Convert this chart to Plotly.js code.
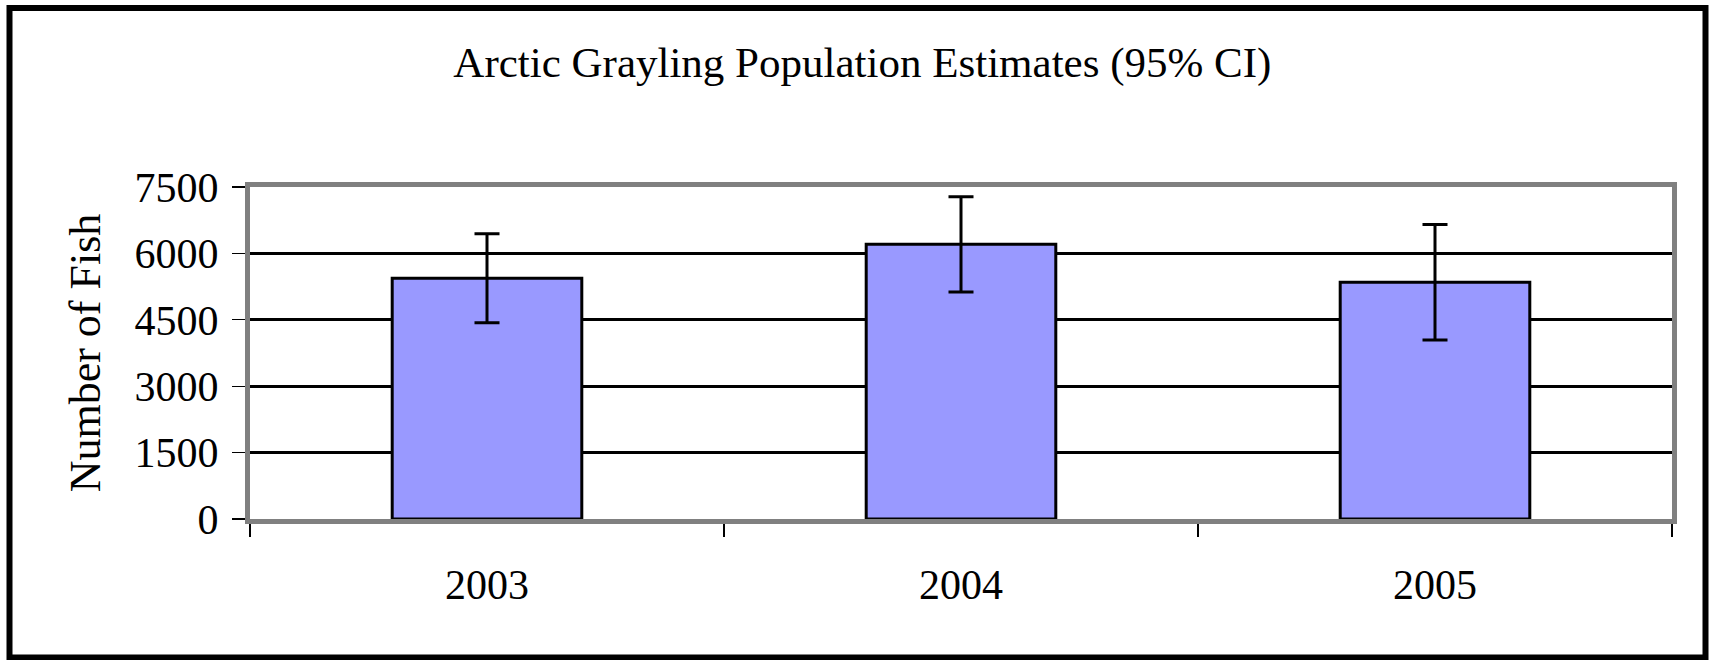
<!DOCTYPE html>
<html>
<head>
<meta charset="utf-8">
<script src="https://cdn.plot.ly/plotly-3.0.1.min.js"></script>
<style>
  html, body { margin: 0; padding: 0; background: #ffffff; }
  #chart { width: 1711px; height: 660px; }
</style>
</head>
<body>
<div id="chart"></div>
<script>
// ---- data ----
const years = ["2003", "2004", "2005"];
const estimates = [5440, 6205, 5350];
const ci95 = [1005, 1075, 1305];
const yTicks = [0, 1500, 3000, 4500, 6000, 7500];

// ---- layout geometry ----
const W = 1711, H = 660;
const M = { l: 250, r: 39, t: 187, b: 141 };
const plotW = W - M.l - M.r, plotH = H - M.t - M.b;
const px2x = px => (px - M.l) / plotW;
const py2y = py => (H - M.b - py) / plotH;

const FONT = '"Liberation Serif", "Times New Roman", serif';

const trace = {
  type: 'bar',
  x: years,
  y: estimates,
  marker: { color: '#9999FF', line: { color: '#000000', width: 3 } },
  error_y: { type: 'data', array: ci95, visible: true, color: '#000000', thickness: 3, width: 12.5 },
  hoverinfo: 'x+y'
};

const layout = {
  width: W, height: H,
  margin: M,
  paper_bgcolor: '#ffffff',
  plot_bgcolor: '#ffffff',
  showlegend: false,
  bargap: 0.6,
  font: { family: FONT, color: '#000000' },
  title: {
    text: 'Arctic Grayling Population Estimates (95% CI)',
    font: { family: FONT, size: 43, color: '#000000' },
    x: 0.504, xref: 'container', xanchor: 'center',
    y: 1 - 62 / H, yref: 'container', yanchor: 'middle'
  },
  xaxis: {
    type: 'category',
    tickson: 'boundaries',
    ticks: 'outside', ticklen: 13, tickwidth: 1.3, tickcolor: '#000000',
    showline: true, linecolor: '#808080', linewidth: 5, mirror: true,
    showgrid: false, zeroline: false,
    tickfont: { family: FONT, size: 42, color: '#000000' },
    ticklabelstandoff: 25
  },
  yaxis: {
    range: [0, 7500],
    tickvals: yTicks,
    ticktext: yTicks.map(String),
    ticks: 'outside', ticklen: 13, tickwidth: 1.3, tickcolor: '#000000',
    showline: true, linecolor: '#808080', linewidth: 5, mirror: true,
    showgrid: true, gridcolor: '#000000', gridwidth: 3,
    zeroline: false,
    tickfont: { family: FONT, size: 42, color: '#000000' },
    ticklabelstandoff: 5,
    title: { text: 'Number of Fish', font: { family: FONT, size: 44, color: '#000000' }, standoff: 22 }
  },
  shapes: [{
    type: 'rect', xref: 'paper', yref: 'paper', layer: 'above',
    x0: px2x(9.5), x1: px2x(1705.5), y0: py2y(657.5), y1: py2y(8),
    line: { color: '#000000', width: 6 }, fillcolor: 'rgba(0,0,0,0)'
  }]
};

Plotly.newPlot('chart', [trace], layout, { displayModeBar: false, staticPlot: true });
</script>
</body>
</html>
